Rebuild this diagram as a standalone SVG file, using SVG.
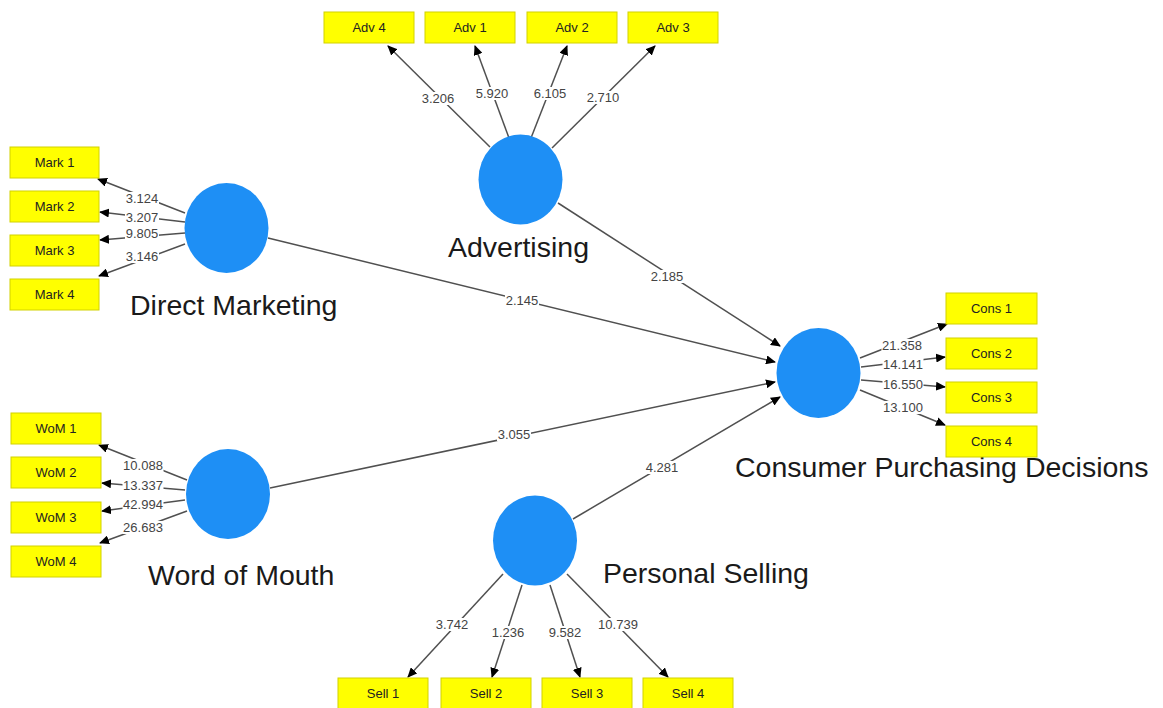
<svg xmlns="http://www.w3.org/2000/svg" width="1163" height="708" viewBox="0 0 1163 708">
<style>
.bg{fill:#ffffff}
.lv{fill:#1e8ff5}
.ind rect{fill:#ffff00;stroke:#d2d200;stroke-width:1}
.ind text{font-family:"Liberation Sans",Arial,sans-serif;font-size:13px;fill:#222;text-anchor:middle}
.name{font-family:"Liberation Sans",Arial,sans-serif;font-size:28.5px;fill:#1a1a1a}
.c line{stroke:#505050;stroke-width:1.5;marker-end:url(#ah)}
.lbl rect{fill:#fff}
.lbl text{font-family:"Liberation Sans",Arial,sans-serif;font-size:13px;fill:#444;text-anchor:middle}
</style>
<defs>
<marker id="ah" markerUnits="userSpaceOnUse" markerWidth="10" markerHeight="9" refX="9" refY="4.5" orient="auto">
<path d="M0,0 L10,4.5 L0,9 Z" fill="#000"/>
</marker>
</defs>
<rect class="bg" x="0" y="0" width="1163" height="708"/>
<g id="connectors" class="c">
<line x1="558" y1="203" x2="780" y2="346"/>
<line x1="268" y1="238" x2="775" y2="362"/>
<line x1="270" y1="488" x2="775" y2="382"/>
<line x1="573" y1="519" x2="780" y2="397"/>
<line x1="490" y1="147" x2="388" y2="46"/>
<line x1="509" y1="138" x2="475" y2="46"/>
<line x1="531" y1="138" x2="567" y2="46"/>
<line x1="552" y1="148" x2="655" y2="46"/>
<line x1="185" y1="213" x2="98" y2="179"/>
<line x1="185" y1="222" x2="100" y2="212"/>
<line x1="185" y1="233" x2="100" y2="240"/>
<line x1="185" y1="244" x2="99" y2="276"/>
<line x1="187" y1="480" x2="99" y2="445"/>
<line x1="185" y1="490" x2="102" y2="483"/>
<line x1="185" y1="500" x2="102" y2="511"/>
<line x1="187" y1="511" x2="100" y2="543"/>
<line x1="860" y1="358" x2="947" y2="324"/>
<line x1="861" y1="367" x2="945" y2="357"/>
<line x1="861" y1="380" x2="945" y2="387"/>
<line x1="860" y1="390" x2="945" y2="425"/>
<line x1="503" y1="574" x2="408" y2="677"/>
<line x1="522" y1="585" x2="492" y2="677"/>
<line x1="550" y1="585" x2="580" y2="677"/>
<line x1="567" y1="574" x2="668" y2="677"/>
</g>
<g id="connector-labels" class="lbl">
<rect x="650" y="270" width="34" height="13"/><text x="667" y="281">2.185</text>
<rect x="505" y="294" width="34" height="13"/><text x="522" y="305">2.145</text>
<rect x="497" y="428" width="34" height="13"/><text x="514" y="439">3.055</text>
<rect x="645" y="461" width="34" height="13"/><text x="662" y="472">4.281</text>
<rect x="421" y="92" width="34" height="13"/><text x="438" y="103">3.206</text>
<rect x="475" y="87" width="34" height="13"/><text x="492" y="98">5.920</text>
<rect x="533" y="87" width="34" height="13"/><text x="550" y="98">6.105</text>
<rect x="586" y="91" width="34" height="13"/><text x="603" y="102">2.710</text>
<rect x="125" y="192" width="34" height="13"/><text x="142" y="203">3.124</text>
<rect x="125" y="211" width="34" height="12"/><text x="142" y="222">3.207</text>
<rect x="125" y="227" width="34" height="12"/><text x="142" y="238">9.805</text>
<rect x="125" y="250" width="34" height="13"/><text x="142" y="261">3.146</text>
<rect x="122.5" y="459" width="41" height="13"/><text x="143" y="470">10.088</text>
<rect x="122.5" y="479" width="41" height="12"/><text x="143" y="490">13.337</text>
<rect x="122.5" y="498" width="41" height="12"/><text x="143" y="509">42.994</text>
<rect x="122.5" y="521" width="41" height="13"/><text x="143" y="532">26.683</text>
<rect x="881.5" y="339" width="41" height="13"/><text x="902" y="350">21.358</text>
<rect x="882.5" y="358" width="41" height="12"/><text x="903" y="369">14.141</text>
<rect x="882.5" y="378" width="41" height="12"/><text x="903" y="389">16.550</text>
<rect x="882.5" y="401" width="41" height="13"/><text x="903" y="412">13.100</text>
<rect x="435" y="618" width="34" height="13"/><text x="452" y="629">3.742</text>
<rect x="491" y="626" width="34" height="13"/><text x="508" y="637">1.236</text>
<rect x="548" y="626" width="34" height="13"/><text x="565" y="637">9.582</text>
<rect x="597.5" y="618" width="41" height="13"/><text x="618" y="629">10.739</text>
</g>
<g id="advertising"><ellipse class="lv" cx="520.5" cy="179.5" rx="42" ry="45"/><text class="name" x="448" y="257">Advertising</text></g>
<g id="direct-marketing"><ellipse class="lv" cx="226.5" cy="228" rx="42" ry="45"/><text class="name" x="130" y="315">Direct Marketing</text></g>
<g id="word-of-mouth"><ellipse class="lv" cx="228" cy="494" rx="42" ry="45"/><text class="name" x="148" y="585">Word of Mouth</text></g>
<g id="personal-selling"><ellipse class="lv" cx="535" cy="540.5" rx="42" ry="45"/><text class="name" x="603" y="583">Personal Selling</text></g>
<g id="consumer-purchasing-decisions"><ellipse class="lv" cx="818.5" cy="373" rx="42" ry="45"/><text class="name" x="735" y="477">Consumer Purchasing Decisions</text></g>
<g id="adv4" class="ind"><rect x="324" y="12" width="90" height="31"/><text x="369" y="32">Adv 4</text></g>
<g id="adv1" class="ind"><rect x="425" y="12" width="90" height="31"/><text x="470" y="32">Adv 1</text></g>
<g id="adv2" class="ind"><rect x="527" y="12" width="90" height="31"/><text x="572" y="32">Adv 2</text></g>
<g id="adv3" class="ind"><rect x="628" y="12" width="90" height="31"/><text x="673" y="32">Adv 3</text></g>
<g id="mark1" class="ind"><rect x="10" y="147" width="89" height="31"/><text x="54.5" y="167">Mark 1</text></g>
<g id="mark2" class="ind"><rect x="10" y="191" width="89" height="31"/><text x="54.5" y="211">Mark 2</text></g>
<g id="mark3" class="ind"><rect x="10" y="235" width="89" height="31"/><text x="54.5" y="255">Mark 3</text></g>
<g id="mark4" class="ind"><rect x="10" y="279" width="89" height="31"/><text x="54.5" y="299">Mark 4</text></g>
<g id="wom1" class="ind"><rect x="11" y="413" width="90" height="31"/><text x="56" y="433">WoM 1</text></g>
<g id="wom2" class="ind"><rect x="11" y="457" width="90" height="31"/><text x="56" y="477">WoM 2</text></g>
<g id="wom3" class="ind"><rect x="11" y="502" width="90" height="31"/><text x="56" y="522">WoM 3</text></g>
<g id="wom4" class="ind"><rect x="11" y="546" width="90" height="31"/><text x="56" y="566">WoM 4</text></g>
<g id="cons1" class="ind"><rect x="946" y="293" width="91" height="31"/><text x="991.5" y="313">Cons 1</text></g>
<g id="cons2" class="ind"><rect x="946" y="338" width="91" height="31"/><text x="991.5" y="358">Cons 2</text></g>
<g id="cons3" class="ind"><rect x="946" y="382" width="91" height="31"/><text x="991.5" y="402">Cons 3</text></g>
<g id="cons4" class="ind"><rect x="946" y="426" width="91" height="31"/><text x="991.5" y="446">Cons 4</text></g>
<g id="sell1" class="ind"><rect x="338" y="678" width="90" height="31"/><text x="383" y="698">Sell 1</text></g>
<g id="sell2" class="ind"><rect x="441" y="678" width="90" height="31"/><text x="486" y="698">Sell 2</text></g>
<g id="sell3" class="ind"><rect x="542" y="678" width="90" height="31"/><text x="587" y="698">Sell 3</text></g>
<g id="sell4" class="ind"><rect x="643" y="678" width="90" height="31"/><text x="688" y="698">Sell 4</text></g>
</svg>
